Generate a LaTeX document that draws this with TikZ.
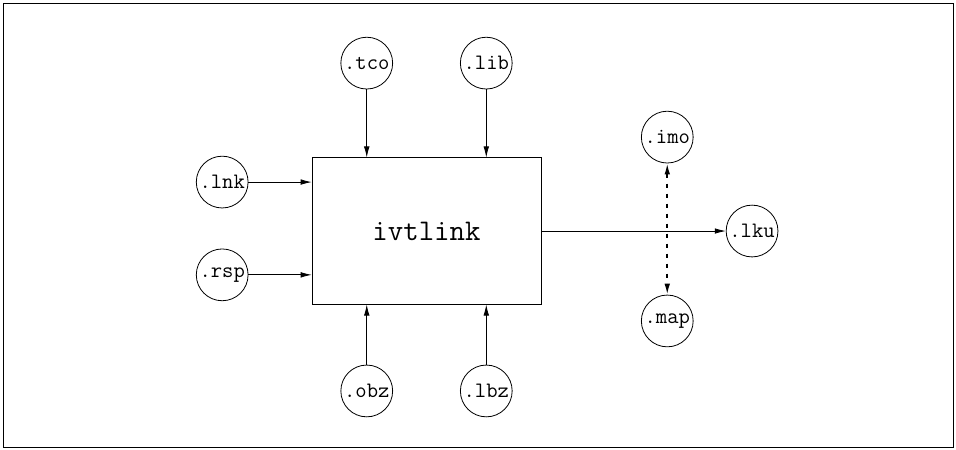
\documentclass[tikz,border=0pt]{standalone}
\usepackage{tikz}
\usetikzlibrary{positioning,arrows.meta}
\begin{document}
\begin{tikzpicture}[thin, on grid, >={Latex[length=5.5pt,width=2.8pt]},
    file/.style={draw, circle, minimum size=0.91cm, inner sep=0pt,
        font=\fontsize{11}{13}\selectfont\ttfamily}]
            \useasboundingbox (-7.494,-3.830) rectangle (9.303,4.059);
            \draw[line width=0.5pt] (-7.441,-3.795) rectangle (9.251,4.006);
            \node[draw, minimum width=4.02cm, minimum height=2.57cm,
            font=\fontsize{15}{18}\selectfont\ttfamily] (ivt) {ivtlink};
            % inputs
            \node[file, above left=2.95cm and 1.05cm of ivt] (tco) {.tco};
            \node[file, above right=2.95cm and 1.05cm of ivt] (lib) {.lib};
            \node[file, above left=0.86cm and 3.59cm of ivt] (lnk) {.lnk};
            \node[file, below left=0.77cm and 3.59cm of ivt] (rsp) {.rsp};
            \node[file, below left=2.81cm and 1.05cm of ivt] (obz) {.obz};
            \node[file, below right=2.81cm and 1.05cm of ivt] (lbz) {.lbz};
            % outputs
            \node[file, right of=ivt, node distance=5.72cm] (lku) {.lku};
            \node[file, above right=1.65cm and 4.23cm of ivt] (imo) {.imo};
            \node[file, below right=1.58cm and 4.23cm of ivt] (map) {.map};
            \draw[->] (tco) -- (tco |- ivt.north);
            \draw[->] (lib) -- (lib |- ivt.north);
            \draw[->] (lnk) -- (lnk -| ivt.west);
            \draw[->] (rsp) -- (rsp -| ivt.west);
            \draw[->] (obz) -- (obz |- ivt.south);
            \draw[->] (lbz) -- (lbz |- ivt.south);
            \draw[->] (ivt) -- (lku);
            \draw[<->, line width=0.8pt, dash pattern=on 2pt off 3pt]
                (imo) -- (map);
        \end{tikzpicture}
\end{document}
